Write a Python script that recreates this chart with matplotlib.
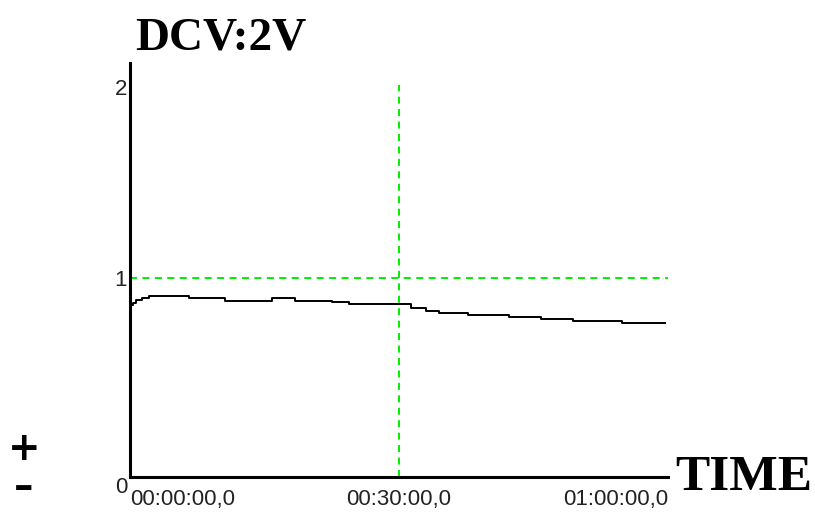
import matplotlib
matplotlib.use("Agg")
import matplotlib.pyplot as plt
from matplotlib import font_manager

# meter reading over one hour (minutes, volts)
t_min = [0.0, 0.3, 0.7, 1.3, 2.1, 6.6, 10.6, 15.8, 18.4, 22.5, 24.4,
         31.3, 33.0, 34.5, 37.7, 42.3, 45.8, 49.4, 54.9, 59.7]
volts = [0.864, 0.874, 0.889, 0.897, 0.911, 0.897, 0.885, 0.899, 0.885, 0.877, 0.867,
         0.847, 0.835, 0.826, 0.815, 0.805, 0.794, 0.784, 0.776, 0.776]

y_ticks = [0, 1, 2]
x_ticks = [0, 30, 60]
x_labels = ["00:00:00,0", "00:30:00,0", "01:00:00,0"]
range_label = "DCV:2V"

names = {f.name for f in font_manager.fontManager.ttflist}
tick_font = "Liberation Sans Narrow" if "Liberation Sans Narrow" in names else "Liberation Sans"

fig = plt.figure(figsize=(8.15, 5.15), dpi=100)
ax = fig.add_axes([130 / 815, 38 / 515, 538 / 815, 414 / 515])
ax.set_xlim(0, 60)
ax.set_ylim(0, 2.08)

for side in ("top", "right"):
    ax.spines[side].set_visible(False)
for side in ("left", "bottom"):
    ax.spines[side].set_linewidth(2.2)
    ax.spines[side].set_color("black")

# cursor lines
green = "#00ee00"
ax.axhline(1, color=green, lw=1.4, dashes=(3.6, 2.8))
ax.plot([30, 30], [0, 1.97], color=green, lw=1.4, dashes=(3.6, 2.8))

ax.step(t_min, volts, where="post", color="black", lw=1.4)

ax.tick_params(length=0)
ax.set_yticks(y_ticks)
ax.set_yticklabels([str(v) for v in y_ticks], fontfamily=tick_font, fontsize=16, color="#222222")
ax.tick_params(axis="y", pad=2)
ax.get_yticklabels()[0].set_verticalalignment("top")
ax.get_yticklabels()[2].set_verticalalignment("top")

ax.set_xticks(x_ticks)
ax.set_xticklabels(x_labels, fontfamily=tick_font, fontsize=16, color="#222222")
ax.tick_params(axis="x", pad=9)
labels = ax.get_xticklabels()
labels[0].set_horizontalalignment("left")
labels[2].set_horizontalalignment("right")

fig.text(135 / 815, 1 - 50 / 515, range_label, fontfamily="Liberation Serif",
         fontweight="bold", fontsize=34, va="baseline", ha="left")
fig.text(675 / 815, 1 - 490 / 515, "TIME", fontfamily="Liberation Serif",
         fontweight="bold", fontsize=37, va="baseline", ha="left")

# polarity marks, stacked in one text block
fig.text(24 / 815, 1 - 468 / 515, "+\n\u2013", fontfamily="DejaVu Sans",
         fontweight="bold", fontsize=28, va="center", ha="center",
         linespacing=1.03)

fig.savefig("out.png", dpi=100)
